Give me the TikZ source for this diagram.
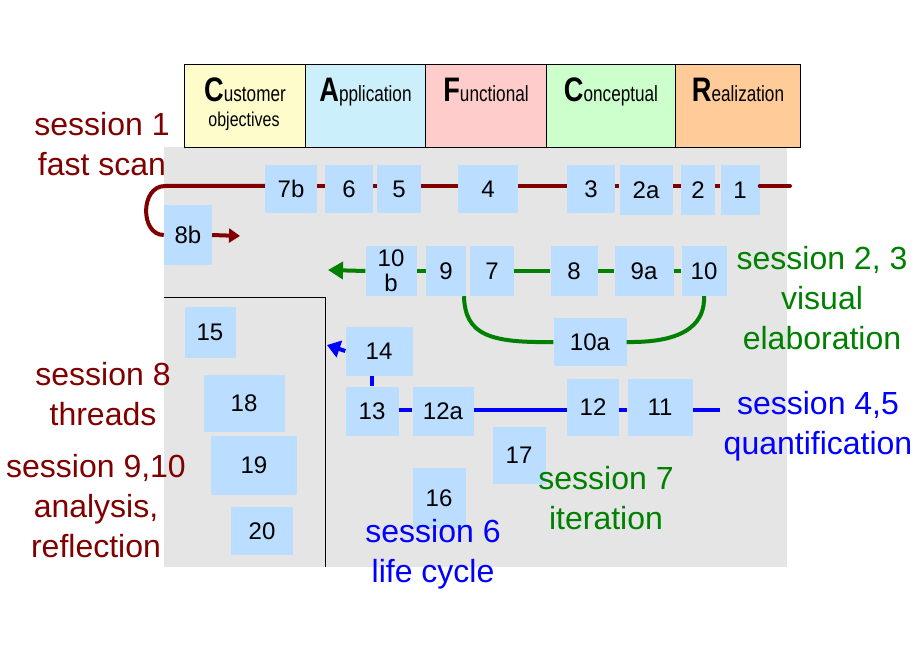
\documentclass[tikz,border=0pt]{standalone}
\usepackage{fontspec}
\usepackage{graphicx}
\setmainfont{Liberation Sans}
\usetikzlibrary{arrows.meta}
\definecolor{dred}{RGB}{128,0,0}
\definecolor{dgreen}{RGB}{0,128,0}
\definecolor{bbox}{RGB}{187,221,255}
\begin{document}
\begin{tikzpicture}[x=1pt,y=-1pt,
  bx/.style={fill=bbox,inner sep=0,font=\fontsize{24}{25}\selectfont,align=center},
  hd/.style={draw=black,line width=1pt,inner sep=0,minimum height=83pt,anchor=north west},
  lab/.style={font=\fontsize{32}{40}\selectfont,align=center},
  rl/.style={dred,line width=4pt},
  gl/.style={dgreen,line width=4pt},
  bl/.style={blue,line width=4pt}]
\useasboundingbox (0,0) rectangle (920,660);
\fill[black!10] (164,147) rectangle (787,567);
% header
\newcommand{\hdr}[6]{\node[hd,fill=#1,minimum width=#3pt] (#6) at (#2,64) {}; \node[anchor=base,font=\fontsize{22}{22}\selectfont] at ([yshift=-38pt]#6.north) {\scalebox{0.8}[1]{\fontsize{34}{34}\selectfont\textbf{#4}}\scalebox{0.78}[1]{#5}};}
\hdr{yellow!20}{184}{121}{C}{ustomer}{h1}
\node[font=\fontsize{20}{20}\selectfont] at (244,121) {\scalebox{0.8}[1]{objectives}};
\hdr{cyan!20}{305}{120}{A}{pplication}{h2}
\hdr{red!20}{425}{121}{F}{unctional}{h3}
\hdr{green!20}{546}{129}{C}{onceptual}{h4}
\hdr{orange!40}{675}{125}{R}{ealization}{h5}
% black frame
\draw[line width=1pt] (164,297) -- (325,297) -- (325,567);
% boxes
\newcommand{\bx}[6]{\node[bx,minimum width=#4pt,minimum height=#5pt] (#1) at (#2,#3) {#6};}
\bx{b7b}{291}{189}{52}{48}{7b}
\bx{b6}{349}{189}{48}{48}{6}
\bx{b5}{399}{189}{44}{48}{5}
\bx{b4}{488}{189}{60}{48}{4}
\bx{b3}{591}{189}{48}{48}{3}
\bx{b2a}{646}{190}{53}{50}{2a}
\bx{b2}{698}{190}{34}{50}{2}
\bx{b1}{740}{190}{39}{50}{1}
\bx{b8b}{188}{235}{48}{60}{8b}
\bx{b10b}{391}{271}{51}{50}{10\\b}
\bx{b9}{446}{271}{40}{50}{9}
\bx{b7}{492}{271}{44}{50}{7}
\bx{b8}{574}{271}{47}{50}{8}
\bx{b9a}{644}{271}{59}{50}{9a}
\bx{b10}{704}{271}{45}{50}{10}
\bx{b10a}{590}{342}{73}{48}{10a}
\bx{b14}{379}{351}{67}{49}{14}
\bx{b15}{210}{332}{51}{51}{15}
\bx{b13}{372}{411}{53}{49}{13}
\bx{b12a}{443}{411}{61}{49}{12a}
\bx{b12}{593}{407}{52}{57}{12}
\bx{b11}{660}{407}{65}{57}{11}
\bx{b17}{519}{455}{53}{57}{17}
\bx{b16}{439}{498}{53}{60}{16}
\bx{b18}{244}{403}{81}{57}{18}
\bx{b19}{254}{465}{86}{59}{19}
\bx{b20}{262}{531}{62}{48}{20}
% connector ends
\coordinate (rs) at (790,186);
\coordinate (gs) at (328,270);
\coordinate (bs) at (720,410);
\coordinate (ba) at (327,345);
\coordinate (ra) at (240,236);
% red
\draw[rl,line cap=round] (rs) -- (b1.east|-rs);
\draw[rl] (b1.west|-rs) -- (b2.east|-rs) (b2.west|-rs) -- (b2a.east|-rs) (b2a.west|-rs) -- (b3.east|-rs) (b3.west|-rs) -- (b4.east|-rs) (b4.west|-rs) -- (b5.east|-rs) (b5.west|-rs) -- (b6.east|-rs) (b6.west|-rs) -- (b7b.east|-rs);
\draw[rl] (b7b.west|-rs) -- (165,186) .. controls (140,186) and (140,235) .. (b8b.west);
\draw[rl,-{Triangle[length=11pt,width=14pt]}] (b8b.east) -- (ra);
% green
\draw[gl] (b10.west) -- (b9a.east) (b9a.west) -- (b8.east) (b8.west) -- (b7.east) (b9.west) -- (b10b.east);
\draw[gl,-{Triangle[length=15pt,width=17pt]}] (b10b.west) -- (gs);
\draw[gl] (b9.south) ++(18,0) .. controls (465,335) and (490,343) .. (b10a.west);
\draw[gl] (b10a.east) .. controls (690,343) and (705,320) .. (b10.south);
% blue
\draw[bl] (bs) -- (b11.east|-bs) (b11.west|-bs) -- (b12.east|-bs) (b12.west|-bs) -- (b12a.east|-bs) (b12a.west|-bs) -- (b13.east|-bs);
\draw[bl] (b14.south) ++(-7,0) -- ++(0,10);
\draw[bl,-{Triangle[length=13pt,width=17pt]}] (b14.west) -- (ba);
% labels
\node[lab,text=dred] (l1) at (102,144) {session 1\\fast scan};
\node[lab,text=dgreen] (l2) at (822,298) {session 2, 3\\visual\\elaboration};
\node[lab,text=blue] (l3) at (818,426) {session 4,5\\quantification};
\node[lab,text=dgreen] (l4) at (606,498) {session 7\\iteration};
\node[lab,text=blue] (l5) at (433,554) {session 6\\life cycle};
\node[lab,text=dred] (l6) at (103,394) {session 8\\threads};
\node[lab,text=dred] (l7) at (96,506) {session 9,10\\analysis,\\reflection};
\end{tikzpicture}
\end{document}
